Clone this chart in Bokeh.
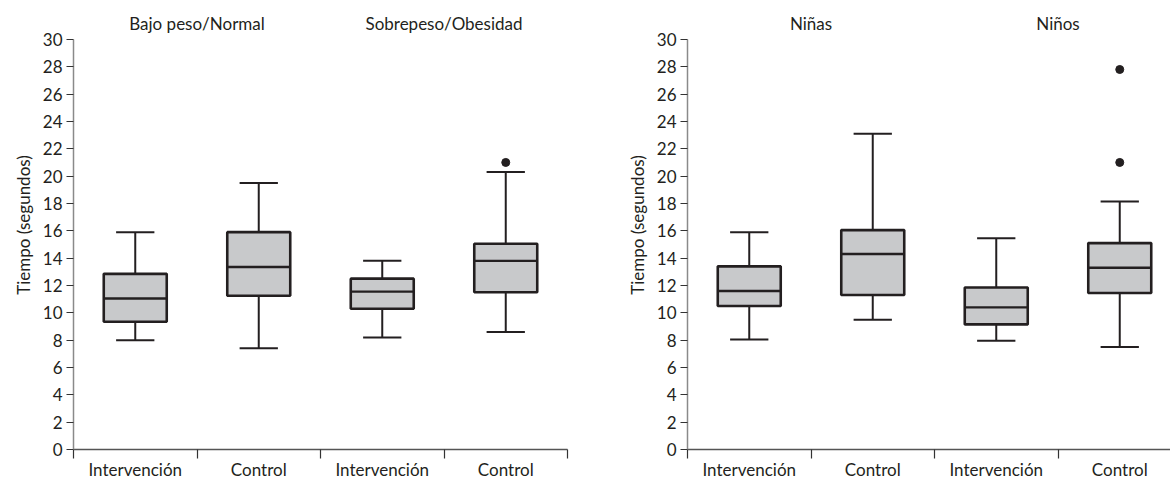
from bokeh.plotting import figure
from bokeh.layouts import row
from bokeh.models import Range1d, FixedTicker, CustomJSTickFormatter
from bokeh.core.properties import value
from bokeh.embed import file_html
from bokeh.resources import INLINE

# ---------------- data ----------------
categories = ["Intervención", "Control", "Intervención", "Control"]
y_ticks = list(range(0, 31, 2))

left_groups = ["Bajo peso/Normal", "Sobrepeso/Obesidad"]
left_lo = [8.0, 7.4, 8.2, 8.6]
left_q1 = [9.35, 11.25, 10.3, 11.5]
left_med = [11.05, 13.35, 11.55, 13.8]
left_q3 = [12.85, 15.9, 12.5, 15.05]
left_hi = [15.9, 19.5, 13.8, 20.3]
left_out_cat = [3]
left_out_val = [21.0]

right_groups = ["Niñas", "Niños"]
right_lo = [8.05, 9.5, 7.95, 7.5]
right_q1 = [10.5, 11.3, 9.15, 11.45]
right_med = [11.6, 14.3, 10.4, 13.3]
right_q3 = [13.4, 16.05, 11.85, 15.1]
right_hi = [15.9, 23.1, 15.45, 18.15]
right_out_cat = [3, 3]
right_out_val = [21.0, 27.8]

y_label = "Tiempo (segundos)"

# ---------------- styling ----------------
FONT = "Lato"
INK = "#231f20"
BOX_FILL = "#c8c9cb"
HEIGHT = 482
BORDER_TOP = 0
BORDER_BOTTOM = 32
PX_PER_UNIT = 13.7
FRAME_H = HEIGHT - BORDER_TOP - BORDER_BOTTOM
Y_MAX = FRAME_H / PX_PER_UNIT
TITLE_Y = 31.17
CAT_PX = 123.5


def make_panel(groups, lo, q1, med, q3, hi, out_cat, out_val,
               width, border_left, border_right):
    frame_w = width - border_left - border_right
    x_end = frame_w / CAT_PX
    p = figure(width=width, height=HEIGHT, output_backend="svg",
               toolbar_location=None,
               x_range=Range1d(0, x_end), y_range=Range1d(0, Y_MAX),
               min_border_left=border_left, min_border_right=border_right,
               min_border_top=BORDER_TOP, min_border_bottom=BORDER_BOTTOM)
    p.outline_line_color = None
    p.xgrid.visible = False
    p.ygrid.visible = False
    p.background_fill_color = "white"
    p.border_fill_color = "white"

    xc = [i + 0.5 for i in range(len(categories))]
    bw = 0.51
    cw = 0.31

    # whiskers
    p.segment(x0=xc, y0=lo, x1=xc, y1=q1, line_color=INK, line_width=2)
    p.segment(x0=xc, y0=q3, x1=xc, y1=hi, line_color=INK, line_width=2)
    # caps
    p.segment(x0=[x - cw / 2 for x in xc], y0=lo, x1=[x + cw / 2 for x in xc], y1=lo,
              line_color=INK, line_width=2)
    p.segment(x0=[x - cw / 2 for x in xc], y0=hi, x1=[x + cw / 2 for x in xc], y1=hi,
              line_color=INK, line_width=2)
    # boxes
    p.vbar(x=xc, width=bw, bottom=q1, top=q3, fill_color=BOX_FILL,
           line_color=INK, line_width=2.6)
    # medians
    p.segment(x0=[x - bw / 2 for x in xc], y0=med, x1=[x + bw / 2 for x in xc], y1=med,
              line_color=INK, line_width=2.4)
    # outliers
    p.scatter(x=[c + 0.5 for c in out_cat], y=out_val, size=8,
              fill_color=INK, line_color=INK)

    # group titles
    p.text(x=[1, 3], y=[TITLE_Y, TITLE_Y], text=groups,
           text_font=value(FONT), text_font_size="17px", text_color=INK,
           text_align="center", text_baseline="middle")

    # y axis
    ya = p.yaxis[0]
    ya.ticker = FixedTicker(ticks=y_ticks, minor_ticks=[])
    ya.bounds = (0, 30)
    ya.axis_line_color = "#8a8a8a"
    ya.axis_line_width = 1.5
    ya.major_tick_line_color = "#333333"
    ya.major_tick_line_width = 1.2
    ya.major_tick_out = 7
    ya.major_tick_in = 0
    ya.minor_tick_line_color = None
    ya.major_label_standoff = 4
    ya.major_label_text_font = FONT
    ya.major_label_text_font_size = "17px"
    ya.major_label_text_color = INK
    ya.axis_label = y_label
    ya.axis_label_text_font = FONT
    ya.axis_label_text_font_size = "17px"
    ya.axis_label_text_font_style = "normal"
    ya.axis_label_text_color = INK
    ya.axis_label_standoff = 6

    # x axis
    xa = p.xaxis[0]
    xa.ticker = FixedTicker(ticks=xc, minor_ticks=list(range(len(categories) + 1)))
    xa.formatter = CustomJSTickFormatter(args=dict(labels=categories),
                                         code="return labels[Math.floor(tick)];")
    xa.axis_label = None
    xa.axis_line_color = "#555555"
    xa.axis_line_width = 1.5
    xa.major_tick_line_color = None
    xa.major_tick_out = 0
    xa.major_tick_in = 0
    xa.minor_tick_line_color = "#333333"
    xa.minor_tick_line_width = 1.2
    xa.minor_tick_out = 9
    xa.minor_tick_in = 0
    xa.major_label_standoff = 0
    xa.major_label_text_font = FONT
    xa.major_label_text_font_size = "17px"
    xa.major_label_text_color = INK
    return p


p1 = make_panel(left_groups, left_lo, left_q1, left_med, left_q3, left_hi,
                left_out_cat, left_out_val, width=580, border_left=73, border_right=13)
p2 = make_panel(right_groups, right_lo, right_q1, right_med, right_q3, right_hi,
                right_out_cat, right_out_val, width=590, border_left=107, border_right=0)

layout = row(p1, p2, spacing=0)
open("out.html", "w").write(file_html(layout, INLINE))
